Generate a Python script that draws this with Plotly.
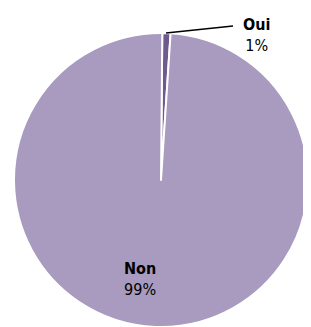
import plotly.graph_objects as go

labels = ["Oui", "Non"]
values = [0.9, 99.1]
pct_text = ["1%", "99%"]
colors = ["#6E5A8E", "#A99BBF"]

# page has an 8px body margin; the figure fills the rest of the 311x327 window
OFF = 8
W, H = 311 - OFF, 327 - OFF

def px(x):
    return (x - OFF) / W

def py(y):
    return 1 - (y - OFF) / H

fig = go.Figure(go.Pie(
    labels=labels, values=values, sort=False, direction="clockwise", rotation=0.5,
    marker=dict(colors=colors, line=dict(color="white", width=2)),
    textinfo="none", hoverinfo="label+percent", showlegend=False,
    domain=dict(x=[px(14), px(308)], y=[max(0, py(327)), py(33)]),
))

font = dict(family="DejaVu Sans Condensed", size=16, color="black")
fig.add_annotation(x=px(140), y=py(279), xref="paper", yref="paper",
                   xanchor="center", yanchor="middle",
                   text=f"<b>{labels[1]}</b><br>{pct_text[1]}", showarrow=False,
                   font=font, align="center")
fig.add_annotation(x=px(241), y=py(35), xref="paper", yref="paper",
                   xanchor="left", yanchor="middle",
                   text=f"<b>{labels[0]}</b><br>{pct_text[0]}", showarrow=False,
                   font=font, align="center")
fig.add_shape(type="line", xref="paper", yref="paper",
              x0=px(166), y0=py(33), x1=px(233), y1=py(26),
              line=dict(color="black", width=1.5))

fig.update_layout(width=W, height=H, margin=dict(l=0, r=0, t=0, b=0),
                  paper_bgcolor="white", plot_bgcolor="white")
fig.write_html("out.html")
